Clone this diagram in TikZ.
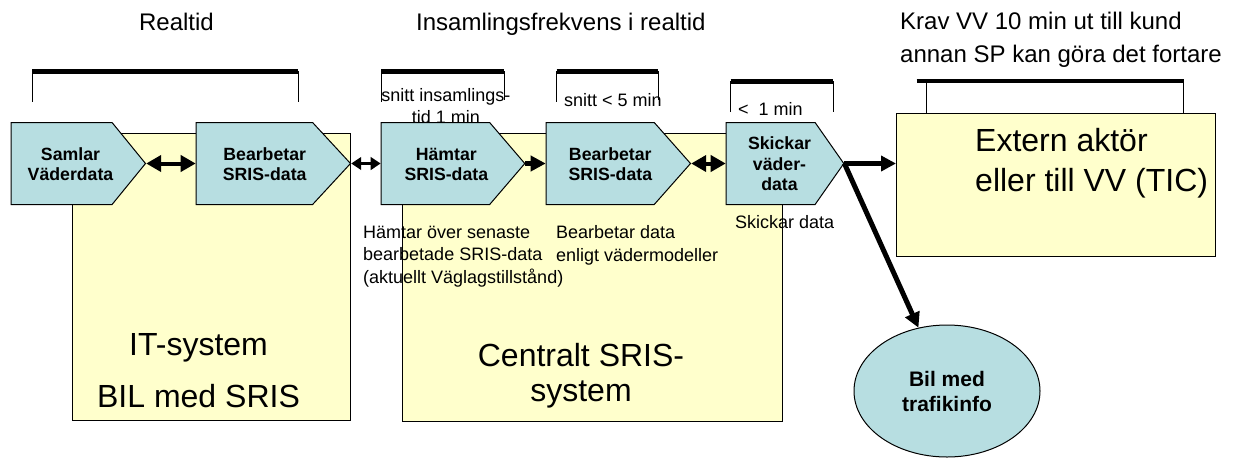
\documentclass[tikz,border=0pt]{standalone}
\usepackage{fontspec}
\setmainfont{Liberation Sans}
\usetikzlibrary{shapes.symbols,shapes.geometric,arrows.meta}

\definecolor{boxyellow}{RGB}{255,255,204}
\definecolor{pentblue}{RGB}{183,222,225}

\begin{document}
\begin{tikzpicture}[x=1pt,y=-1pt,
    title/.style={inner sep=0pt,font=\fontsize{24}{33}\selectfont},
    small/.style={inner sep=0pt,font=\fontsize{18}{22.5}\selectfont},
    big/.style={inner sep=0pt,align=center,font=\fontsize{32}{35}\selectfont},
    bartop/.style={line width=4.7pt},
    barleg/.style={line width=0.9pt}
  ]
  \useasboundingbox (0,0) rectangle (1254,459);

  % yellow system boxes
  \begin{scope}[every node/.style={draw,line width=1.1pt,fill=boxyellow,inner sep=0pt,anchor=north west}]
    \node (it)      at (71.7,133.3) [minimum width=278.6pt,minimum height=287pt] {};
    \node (central) at (401.7,133.3) [minimum width=380.3pt,minimum height=287.4pt] {};
    \node (extern)  at (896,112.7) [minimum width=319pt,minimum height=143.3pt] {};
  \end{scope}

  % brackets
  \foreach \xa/\xb/\yt/\yl/\yr in {32/298/71.7/101.7/101.7, 381/504.3/71.3/101.7/100,
      556.7/658.3/71.3/101.7/100, 730.7/833.3/81.3/112/112} {
    \draw[barleg] (\xa,\yl) -- (\xa,\yt) -- (\xb,\yt) -- (\xb,\yr);
    \draw[bartop] (\xa,\yt) -- (\xb,\yt);
  }
  \draw[barleg] (926.7,112.7) -- (926.7,81) (1183.3,81) -- (1183.3,112.7);
  \draw[bartop] (916.7,81) -- (1184,81);

  % headings (base = last line)
  \node[title,anchor=base] (rt) at (176.5,30.5) {Realtid};
  \node[title,anchor=base west] (ins) at (416,30.5) {Insamlingsfrekvens i realtid};
  \node[title,anchor=base west,align=left] (krav) at (900,62.3) {Krav VV 10 min ut till kund\\annan SP kan göra det fortare};

  % small labels
  \node[small,anchor=base,align=center] (snitt1) at (446,123.5) {snitt insamlings-\\tid 1 min};
  \node[small,anchor=base west] (snitt2) at (564,106) {snitt < 5 min};
  \node[small,anchor=base west] (snitt3) at (738,115.7) {<\ \ 1 min};
  \node[small,anchor=base west,align=left] (hamtlbl) at (363,283.3) {Hämtar över senaste\\bearbetade SRIS-data\\(aktuellt Väglagstillstånd)};
  \node[small,anchor=base west,align=left] (bearblbl) at (556,261) {Bearbetar data\\enligt vädermodeller};
  \node[small,anchor=base west] (skicklbl) at (735,228.3) {Skickar data};

  % system names
  \node[big,anchor=base,font=\fontsize{32}{52}\selectfont] (itlbl) at (198.5,407.3) {IT-system\\BIL med SRIS};
  \node[big,anchor=base] (centlbl) at (581,401) {Centralt SRIS-\\system};
  \node[big,anchor=base west,align=left,font=\fontsize{32}{40}\selectfont] (extlbl) at (975,191.7) {Extern aktör\\eller till VV (TIC)};

  % process steps
  \begin{scope}[every node/.style={signal,signal to=east,draw,line width=1pt,fill=pentblue,
      minimum height=82pt,inner sep=0pt,anchor=west}]
    \node (samla)  at (10.7,163.5)  [minimum width=134.3pt,signal pointer angle=101.6] {};
    \node (bearb1) at (195.7,163.5) [minimum width=154.3pt,signal pointer angle=94.5] {};
    \node (hamta)  at (380.7,163.5) [minimum width=143.6pt,signal pointer angle=98.8] {};
    \node (bearb2) at (545.7,163.5) [minimum width=144.3pt,signal pointer angle=97] {};
    \node (skicka) at (725.7,163.5) [minimum width=117.6pt,signal pointer angle=110] {};
  \end{scope}

  \begin{scope}[every node/.style={inner sep=0pt,align=center,anchor=base,
      font=\bfseries\fontsize{17.7}{20.3}\selectfont}]
    \node (samlat)  at (70.5,180.7)  {Samlar\\Väderdata};
    \node (bearb1t) at (264.7,180.7) {Bearbetar\\SRIS-data};
    \node (hamtat)  at (446.3,180.3) {Hämtar\\SRIS-data};
    \node (bearb2t) at (610.3,180.3) {Bearbetar\\SRIS-data};
    \node (skickat) at (779.5,190.7) [font=\bfseries\fontsize{17.7}{20.7}\selectfont] {Skickar\\väder-\\data};
  \end{scope}

  \node (bil) at (947,391) [ellipse,draw,line width=1pt,fill=pentblue,minimum width=186pt,
    minimum height=132pt,inner sep=0pt,align=center,
    font=\bfseries\fontsize{21}{25}\selectfont] {Bil med\\trafikinfo};

  % flows
  \begin{scope}[every edge/.style={draw},
      dbl/.style={line width=4pt,arrows={Triangle[length=15pt,width=16pt]-Triangle[length=15pt,width=16pt]}},
      dblsmall/.style={line width=3pt,arrows={Triangle[length=10pt,width=12.5pt]-Triangle[length=10pt,width=12.5pt]}},
      sgl/.style={line width=5pt,arrows={-Triangle[length=15pt,width=15pt]}}]
    \path (samla.east)  edge[dbl] (bearb1.west);
    \path (bearb1.east) edge[dblsmall] (hamta.west);
    \path (hamta.east)  edge[sgl] (bearb2.west);
    \path (bearb2.east) edge[dbl] (skicka.west);
    \path (skicka.east) edge[sgl] (extern.west |- skicka.east);
    \path (skicka.east) edge[sgl] (bil);
  \end{scope}

\end{tikzpicture}
\end{document}
